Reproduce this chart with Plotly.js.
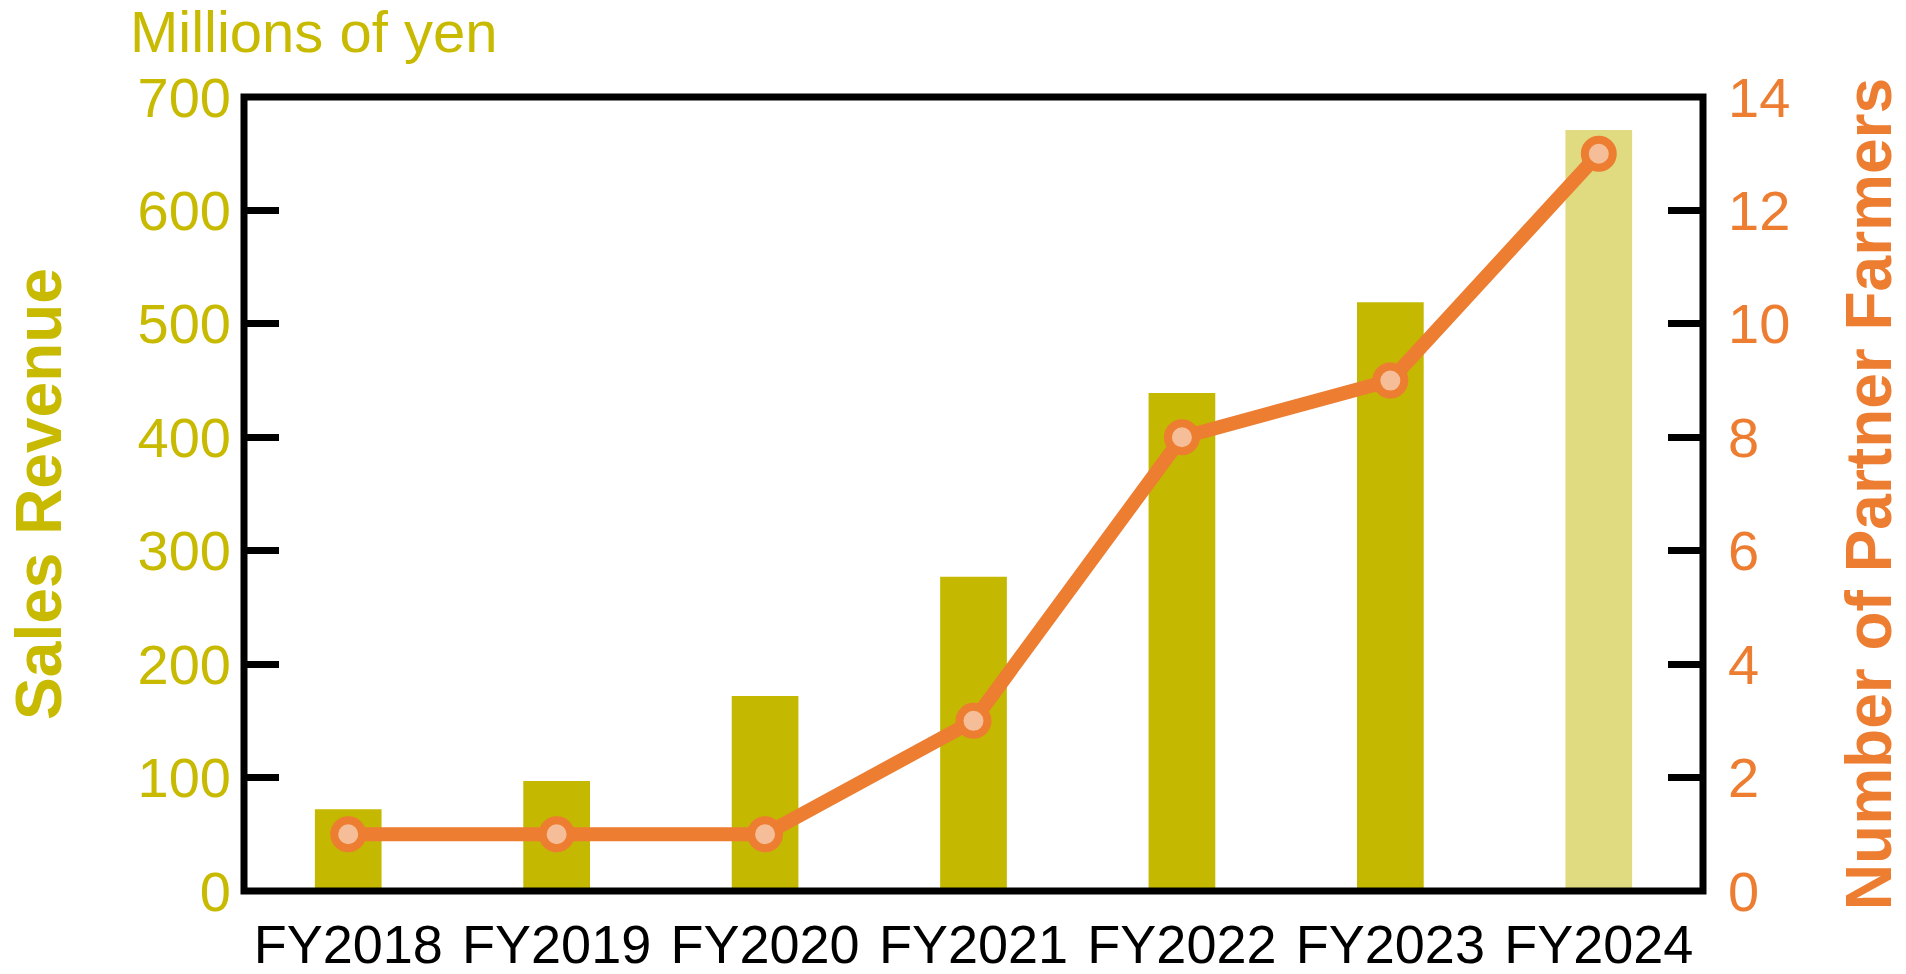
<!DOCTYPE html>
<html>
<head>
<meta charset="utf-8">
<script src="https://cdn.plot.ly/plotly-3.0.1.min.js"></script>
<style>
  html, body { margin: 0; padding: 0; background: #ffffff; }
  #chart { width: 1906px; height: 974px; }
</style>
</head>
<body>
<div id="chart"></div>
<script>
// ---- Data ----
const categories = ['FY2018', 'FY2019', 'FY2020', 'FY2021', 'FY2022', 'FY2023', 'FY2024'];
const salesRevenue = [72, 97, 172, 277, 439, 519, 671];      // millions of yen
const partnerFarmers = [1, 1, 1, 3, 8, 9, 13];
const barColors = ['#C5B800', '#C5B800', '#C5B800', '#C5B800', '#C5B800', '#C5B800', '#E0DB80'];
const leftTicks = [0, 100, 200, 300, 400, 500, 600, 700];
const rightTicks = [0, 2, 4, 6, 8, 10, 12, 14];

const olive = '#C8BA00';
const orange = '#ED7D31';
const fontFam = 'Liberation Sans, Arial, sans-serif';

const traces = [
  {
    type: 'bar',
    x: categories,
    y: salesRevenue,
    width: 0.32,
    marker: { color: barColors, line: { width: 0 } },
    yaxis: 'y',
    hoverinfo: 'x+y',
    showlegend: false
  },
  {
    type: 'scatter',
    mode: 'lines+markers',
    x: categories,
    y: partnerFarmers,
    yaxis: 'y2',
    line: { color: orange, width: 14 },
    marker: { size: 28, color: '#F5BE98', line: { color: orange, width: 8 } },
    showlegend: false
  }
];

const layout = {
  width: 1906,
  height: 974,
  paper_bgcolor: '#ffffff',
  plot_bgcolor: '#ffffff',
  margin: { l: 244, r: 203, t: 97, b: 83 },
  font: { family: fontFam, color: '#000000' },
  showlegend: false,
  xaxis: {
    type: 'category',
    range: [-0.5, 6.5],
    showline: false,
    showgrid: false,
    zeroline: false,
    ticks: '',
    tickfont: { family: fontFam, size: 54, color: '#000000' },
    ticklabelstandoff: 17,
    fixedrange: true
  },
  yaxis: {
    range: [0, 700],
    tickvals: leftTicks,
    showline: false,
    showgrid: false,
    zeroline: false,
    ticks: 'inside',
    ticklen: 35,
    tickwidth: 7,
    tickcolor: '#000000',
    tickfont: { family: fontFam, size: 56, color: olive },
    ticklabelstandoff: 12,
    title: { text: '<b>Sales Revenue</b>', font: { family: fontFam, size: 64, color: olive }, standoff: 55 },
    automargin: false
  },
  yaxis2: {
    overlaying: 'y',
    side: 'right',
    range: [0, 14],
    tickvals: rightTicks,
    showline: false,
    showgrid: false,
    zeroline: false,
    ticks: 'inside',
    ticklen: 35,
    tickwidth: 7,
    tickcolor: '#000000',
    tickfont: { family: fontFam, size: 56, color: orange },
    ticklabelstandoff: 24,
    title: { text: '<b>Number of Partner Farmers</b>', font: { family: fontFam, size: 64, color: orange }, standoff: 56 },
    automargin: false
  },
  shapes: [
    {
      type: 'rect', xref: 'paper', yref: 'paper',
      x0: 0, x1: 1, y0: 0, y1: 1,
      line: { color: '#000000', width: 7 },
      fillcolor: 'rgba(0,0,0,0)',
      layer: 'above'
    }
  ],
  annotations: [
    {
      text: 'Millions of yen',
      xref: 'paper', yref: 'paper',
      x: -0.0795, y: 1.0819,
      xanchor: 'left', yanchor: 'middle',
      showarrow: false,
      font: { family: fontFam, size: 58, color: olive }
    }
  ]
};

Plotly.newPlot('chart', traces, layout, { displayModeBar: false, staticPlot: true });
</script>
</body>
</html>
